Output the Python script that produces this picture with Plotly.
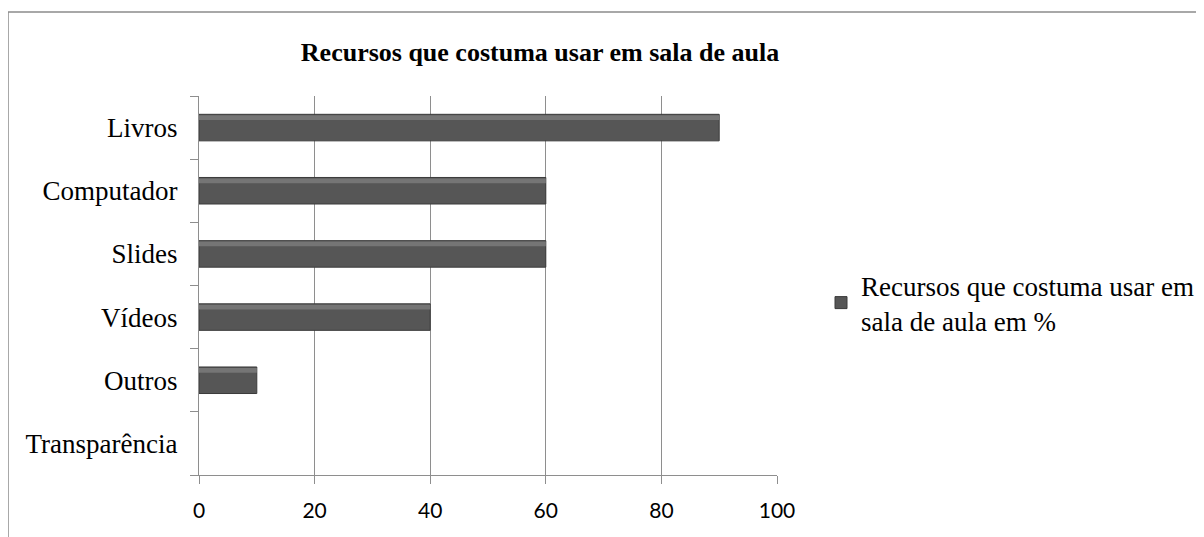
import plotly.graph_objects as go

categories = ["Livros", "Computador", "Slides", "Vídeos", "Outros", "Transparência"]
values = [90, 60, 60, 40, 10, 0]
series_name = "Recursos que costuma usar em<br>sala de aula em %"
title_text = "Recursos que costuma usar em sala de aula"
x_ticks = [0, 20, 40, 60, 80, 100]

# page is drawn with an 8px body margin, so figure coords = screen coords - 8
OFF = 8
W, H = 1204 - OFF, 537 - OFF
L, R, T, B = 199 - OFF, 777 - OFF, 96 - OFF, 475 - OFF

fig = go.Figure()
fig.add_trace(go.Bar(
    y=categories, x=values, orientation="h", name=series_name,
    marker=dict(color="#565656",
                line=dict(color="#3a3a3a", width=[1 if v > 0 else 0 for v in values])),
    width=0.42, offset=-0.21,
))
# lighter bevel highlight along the upper part of each bar
fig.add_trace(go.Bar(
    y=categories, x=values, orientation="h", showlegend=False, hoverinfo="skip",
    marker=dict(color="#757575", line=dict(width=0)),
    width=0.075, offset=0.12,
))

gray = "#8e8e8e"
serif = "Liberation Serif, Times New Roman, serif"

fig.update_layout(
    width=W, height=H, barmode="overlay",
    margin=dict(l=L, r=W - R, t=T, b=H - B, autoexpand=False),
    paper_bgcolor="white", plot_bgcolor="white",
    title=dict(text="<b>" + title_text + "</b>", x=(540 - OFF) / W, xref="container", xanchor="center",
               y=1 - (52 - OFF) / H, yref="container", yanchor="middle",
               font=dict(family=serif, size=26, color="black")),
    showlegend=True,
    legend=dict(x=(821 - OFF - L) / (R - L), xanchor="left", y=(B - (303 - OFF)) / (B - T), yanchor="middle",
                font=dict(family=serif, size=27, color="black"),
                bgcolor="rgba(0,0,0,0)", tracegroupgap=0),
)

fig.update_xaxes(
    range=[0, 100], tickvals=x_ticks, showgrid=True, gridcolor=gray, gridwidth=1.3,
    showline=True, linecolor=gray, linewidth=1.3, ticks="outside", ticklen=8,
    tickcolor=gray, tickwidth=1.3, zeroline=False,
    tickfont=dict(family="Lato, Open Sans, sans-serif", size=21, color="black"),
    ticklabelstandoff=9, fixedrange=True,
)
fig.update_yaxes(
    categoryorder="array", categoryarray=categories[::-1],
    showline=True, linecolor=gray, linewidth=1.3, ticks="outside", ticklen=8,
    tickcolor=gray, tickwidth=1.3, tickson="boundaries", showgrid=False,
    tickfont=dict(family=serif, size=27, color="black"),
    ticklabelstandoff=15, fixedrange=True,
)

# outer chart border (as in the source document)
fig.add_shape(type="rect", xref="paper", yref="paper",
              x0=(8 - OFF - L) / (R - L), x1=(1215 - L) / (R - L),
              y0=(B - 560) / (B - T), y1=(B - (12 - OFF)) / (B - T),
              line=dict(color="#8c8c8c", width=1.5), fillcolor="rgba(0,0,0,0)", layer="below")

fig.write_html("out.html")
